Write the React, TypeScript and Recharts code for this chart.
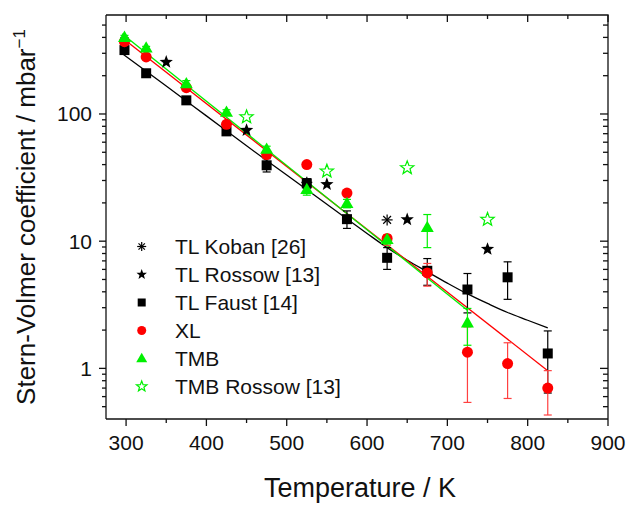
import React from 'react'
import { ComposedChart, Scatter, Line, XAxis, YAxis, ErrorBar } from 'recharts'

// axis ticks
const xMajor = [300, 400, 500, 600, 700, 800, 900]
const xTicks = [300, 350, 400, 450, 500, 550, 600, 650, 700, 750, 800, 850, 900]
const yMajor = [1, 10, 100]
const yTicks = [
  0.5, 0.6, 0.7, 0.8, 0.9, 1, 2, 3, 4, 5, 6, 7, 8, 9,
  10, 20, 30, 40, 50, 60, 70, 80, 90, 100, 200, 300, 400, 500,
]
const xDomain = [275, 900]
const yDomain = [0.4, 600]

// TL Koban [26]
const kobanT = [298, 525, 625]
const kobanV = [375, 29, 14.7]

// TL Rossow [13]
const rossowT = [350, 450, 550, 650, 750]
const rossowV = [256, 74.5, 28, 14.8, 8.65]

// TL Faust [14]
const faustT = [298, 325, 375, 425, 475, 525, 575, 625, 675, 725, 775, 825]
const faustV = [318, 209, 128, 73, 39.5, 28.5, 14.9, 7.4, 5.85, 4.17, 5.2, 1.31]
const faustLo = [18, 8, 8, 4, 4.5, 2.5, 2.3, 1.4, 1.35, 1.44, 1.71, 0.67]
const faustHi = [18, 8, 8, 4, 5, 2.5, 2.4, 1.5, 1.45, 1.4, 1.68, 0.66]

// XL
const xlT = [298, 325, 375, 425, 475, 525, 575, 625, 675, 725, 775, 825]
const xlV = [370, 281, 161, 83, 48, 40, 23.9, 10.5, 5.63, 1.34, 1.09, 0.7]
const xlLo = [15, 10, 8, 4, 2.5, 2, 1.2, 1.2, 1.2, 0.8, 0.51, 0.27]
const xlHi = [15, 10, 8, 4, 2.5, 2, 1.2, 0.7, 1.05, 0.78, 0.5, 0.26]

// TMB
const tmbT = [298, 325, 375, 425, 475, 525, 575, 625, 675, 725]
const tmbV = [400, 330, 173, 103, 52.8, 25.5, 19.8, 10.3, 12.8, 2.28]
const tmbLo = [15, 10, 10, 5, 3, 2.5, 1.5, 0.8, 3.9, 0.76]
const tmbHi = [15, 10, 10, 5, 3, 2.5, 1.5, 0.8, 3.4, 0.68]

// TMB Rossow [13]
const tmbRossowT = [450, 550, 650, 750]
const tmbRossowV = [94.7, 35.5, 37.7, 14.8]

// fit curves
const faustFitT = [295, 350, 400, 450, 500, 550, 600, 625, 650, 675, 700, 725, 750, 775, 800, 825]
const faustFitV = [299, 166, 96.6, 56.2, 33.1, 19.5, 11.5, 8.9, 7.08, 5.75, 4.68, 3.85, 3.24, 2.75, 2.39, 2.08]
const xlFitT = [295, 825]
const xlFitV = [398, 0.96]
const tmbFitT = [295, 725]
const tmbFitV = [428, 2.87]

const pts = (T: number[], V: number[], lo?: number[], hi?: number[]) =>
  T.map((t, i) => ({ T: t, v: V[i], err: lo && hi ? [lo[i], hi[i]] : undefined }))

const koban = pts(kobanT, kobanV)
const rossow = pts(rossowT, rossowV)
const faust = pts(faustT, faustV, faustLo, faustHi)
const xl = pts(xlT, xlV, xlLo, xlHi)
const tmb = pts(tmbT, tmbV, tmbLo, tmbHi)
const tmbRossow = pts(tmbRossowT, tmbRossowV)
const faustFit = pts(faustFitT, faustFitV)
const xlFit = pts(xlFitT, xlFitV)
const tmbFit = pts(tmbFitT, tmbFitV)

// layout
const W = 628
const H = 505
const M = { top: 15, right: 20, left: 0, bottom: 0 }
const Y_AXIS_W = 106
const X_AXIS_H = 86
const PLOT_W = W - M.left - M.right - Y_AXIS_W
const PLOT_H = H - M.top - M.bottom - X_AXIS_H

const FONT = '"Liberation Sans", Arial, sans-serif'
const AX = '#111'
const RED = '#ff0000'
const GREEN = '#00f000'

function starPath(cx: number, cy: number, R: number, r: number) {
  let d = ''
  for (let i = 0; i < 10; i++) {
    const a = (-90 + i * 36) * Math.PI / 180
    const rad = i % 2 ? r : R
    d += (i ? 'L' : 'M') + (cx + rad * Math.cos(a)).toFixed(2) + ',' + (cy + rad * Math.sin(a)).toFixed(2)
  }
  return d + 'Z'
}

const Square = ({ cx, cy, s = 10 }: any) => <rect x={cx - s / 2} y={cy - s / 2} width={s} height={s} fill="#000" />
const Circle = ({ cx, cy, r = 5.5 }: any) => <circle cx={cx} cy={cy} r={r} fill={RED} />
const Tri = ({ cx, cy, s = 13 }: any) => {
  const h = s * 0.87
  return <path d={`M${cx},${cy - h * 0.6}L${cx + s / 2},${cy + h * 0.4}L${cx - s / 2},${cy + h * 0.4}Z`} fill={GREEN} />
}
const FilledStar = ({ cx, cy, R = 7 }: any) => <path d={starPath(cx, cy, R, R * 0.42)} fill="#000" />
const HollowStar = ({ cx, cy, R = 7 }: any) => (
  <path d={starPath(cx, cy, R, R * 0.42)} fill="#fff" stroke={GREEN} strokeWidth={1.2} />
)
const Asterisk = ({ cx, cy, r = 5.5 }: any) => (
  <g stroke="#000" strokeWidth={1.2}>
    {[0, 45, 90, 135].map((a) => {
      const c = Math.cos(a * Math.PI / 180) * r
      const s = Math.sin(a * Math.PI / 180) * r
      return <line key={a} x1={cx - c} y1={cy - s} x2={cx + c} y2={cy + s} />
    })}
  </g>
)

// bottom ticks point out, the mirrored copy on the top edge points in
function BottomTick({ x, y, payload }: any) {
  const major = xMajor.includes(payload.value)
  const len = major ? 7 : 4
  const top = y - PLOT_H
  return (
    <g>
      <line x1={x} x2={x} y1={y} y2={y + len} stroke={AX} strokeWidth={1.3} />
      <line x1={x} x2={x} y1={top} y2={top + len} stroke={AX} strokeWidth={1.3} />
      {major && (
        <text x={x} y={y + 31} textAnchor="middle" fontSize={21} fontFamily={FONT} fill={AX}>{payload.value}</text>
      )}
    </g>
  )
}
// left ticks point out, the mirrored copy on the right edge points in
function LeftTick({ x, y, payload }: any) {
  const major = yMajor.includes(payload.value)
  const right = x + PLOT_W
  return (
    <g>
      <line x1={x} x2={x - (major ? 7 : 4)} y1={y} y2={y} stroke={AX} strokeWidth={1.3} />
      <line x1={right} x2={right - (major ? 8 : 5)} y1={y} y2={y} stroke={AX} strokeWidth={1.3} />
      {major && (
        <text x={x - 14} y={y + 7.5} textAnchor="end" fontSize={21} fontFamily={FONT} fill={AX}>{payload.value}</text>
      )}
    </g>
  )
}

const legendRows = [
  { label: 'TL Koban [26]', mark: (cx: number, cy: number) => <Asterisk cx={cx} cy={cy} r={4.5} /> },
  { label: 'TL Rossow [13]', mark: (cx: number, cy: number) => <FilledStar cx={cx} cy={cy} R={5.5} /> },
  { label: 'TL Faust [14]', mark: (cx: number, cy: number) => <Square cx={cx} cy={cy} s={8} /> },
  { label: 'XL', mark: (cx: number, cy: number) => <Circle cx={cx} cy={cy} r={4.5} /> },
  { label: 'TMB', mark: (cx: number, cy: number) => <Tri cx={cx} cy={cy} s={11} /> },
  { label: 'TMB Rossow [13]', mark: (cx: number, cy: number) => <HollowStar cx={cx} cy={cy} R={5.5} /> },
]

export default function App() {
  const px = M.left + Y_AXIS_W
  const py = M.top
  return (
    <div style={{ position: 'absolute', left: 0, top: 0, width: W, height: H, background: '#fff' }}>
      <ComposedChart width={W} height={H} margin={M}>
        <XAxis
          dataKey="T"
          type="number"
          domain={xDomain}
          ticks={xTicks}
          interval={0}
          allowDataOverflow
          height={X_AXIS_H}
          tickSize={0}
          tickMargin={0}
          tickLine={false}
          tick={<BottomTick />}
          axisLine={{ stroke: AX, strokeWidth: 1.3 }}
        />
        <YAxis
          dataKey="v"
          scale="log"
          type="number"
          domain={yDomain}
          ticks={yTicks}
          interval={0}
          allowDataOverflow
          width={Y_AXIS_W}
          tickSize={0}
          tickMargin={0}
          tickLine={false}
          tick={<LeftTick />}
          axisLine={{ stroke: AX, strokeWidth: 1.3 }}
        />

        <Line data={faustFit} dataKey="v" type="monotone" stroke="#000" strokeWidth={1.3} dot={false} isAnimationActive={false} />
        <Line data={xlFit} dataKey="v" type="linear" stroke={RED} strokeWidth={1.3} dot={false} isAnimationActive={false} />
        <Line data={tmbFit} dataKey="v" type="linear" stroke={GREEN} strokeWidth={1.3} dot={false} isAnimationActive={false} />

        <Scatter data={koban} dataKey="v" shape={(p: any) => <Asterisk cx={p.cx} cy={p.cy} />} isAnimationActive={false} />
        <Scatter data={rossow} dataKey="v" shape={(p: any) => <FilledStar cx={p.cx} cy={p.cy} />} isAnimationActive={false} />
        <Scatter data={faust} dataKey="v" shape={(p: any) => <Square cx={p.cx} cy={p.cy} />} isAnimationActive={false}>
          <ErrorBar dataKey="err" direction="y" width={4} stroke="#000" strokeWidth={1.2} />
        </Scatter>
        <Scatter data={xl} dataKey="v" shape={(p: any) => <Circle cx={p.cx} cy={p.cy} />} isAnimationActive={false}>
          <ErrorBar dataKey="err" direction="y" width={4} stroke="#ff4040" strokeWidth={1.2} />
        </Scatter>
        <Scatter data={tmb} dataKey="v" shape={(p: any) => <Tri cx={p.cx} cy={p.cy} />} isAnimationActive={false}>
          <ErrorBar dataKey="err" direction="y" width={4} stroke={GREEN} strokeWidth={1.2} />
        </Scatter>
        <Scatter data={tmbRossow} dataKey="v" shape={(p: any) => <HollowStar cx={p.cx} cy={p.cy} />} isAnimationActive={false} />
      </ComposedChart>

      <svg width={W} height={H} style={{ position: 'absolute', left: 0, top: 0, pointerEvents: 'none' }}>
        {/* top and right edges of the frame */}
        <polyline
          points={`${px},${py} ${px + PLOT_W},${py} ${px + PLOT_W},${py + PLOT_H}`}
          fill="none"
          stroke={AX}
          strokeWidth={1.3}
        />
        {legendRows.map((r, i) => {
          const cy = 246.5 + i * 28
          return (
            <g key={r.label}>
              {r.mark(141.7, cy)}
              <text x={175} y={cy + 7.5} fontSize={21} fontFamily={FONT} fill={AX}>{r.label}</text>
            </g>
          )
        })}
        <text x={360} y={497} textAnchor="middle" fontSize={27} fontFamily={FONT} fill={AX}>Temperature / K</text>
        <text
          x={35}
          y={217}
          transform="rotate(-90 35 217)"
          textAnchor="middle"
          fontSize={26}
          fontFamily={FONT}
          fill={AX}
        >
          Stern-Volmer coefficient / mbar<tspan dy={-10} fontSize={17}>−1</tspan>
        </text>
      </svg>
    </div>
  )
}
